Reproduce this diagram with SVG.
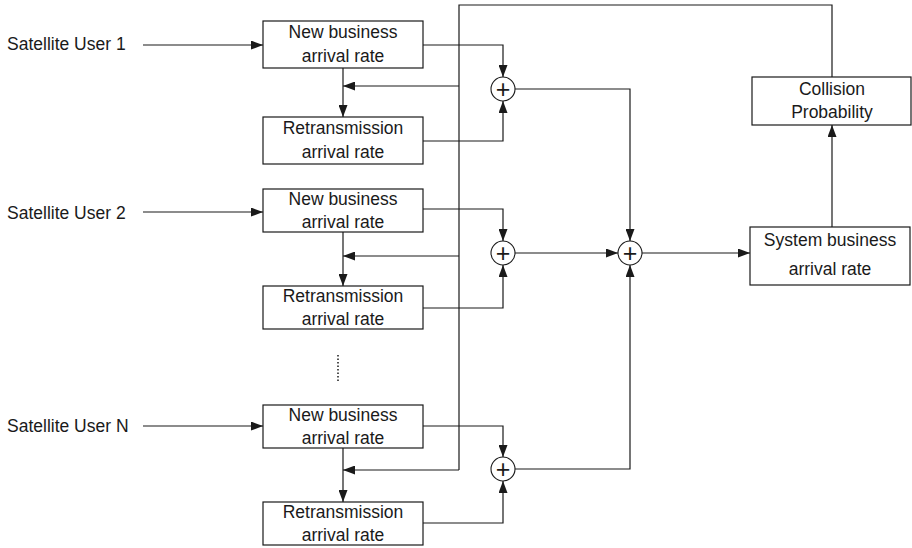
<svg xmlns="http://www.w3.org/2000/svg" width="912" height="548" viewBox="0 0 912 548">
  <style>
    .box { fill: #ffffff; stroke: #1a1a1a; stroke-width: 1.2; }
    .sum { fill: #ffffff; stroke: #1a1a1a; stroke-width: 1.1; }
    .wire { fill: none; stroke: #1a1a1a; stroke-width: 1.2; }
    .arr { marker-end: url(#head); }
    .dots { fill: none; stroke: #1a1a1a; stroke-width: 1.5; stroke-dasharray: 1.5 2; }
    text { font-family: "Liberation Sans", Arial, sans-serif; font-size: 17.5px; fill: #1a1a1a; }
    .c { text-anchor: middle; }
    .plus { font-size: 25px; text-anchor: middle; }
  </style>
  <defs>
    <marker id="head" markerUnits="userSpaceOnUse" markerWidth="12" markerHeight="9" refX="12" refY="4.5" orient="auto">
      <path d="M0,0 L12,4.5 L0,9 z" fill="#1a1a1a"/>
    </marker>
  </defs>

  <!-- connectors -->
  <g id="connectors">
    <!-- user inputs -->
    <path class="wire arr" d="M143,45 H263"/>
    <path class="wire arr" d="M143,212 H263"/>
    <path class="wire arr" d="M143,426 H263"/>
    <!-- new business -> retransmission -->
    <path class="wire arr" d="M343,68 V117"/>
    <path class="wire arr" d="M343,232 V286"/>
    <path class="wire arr" d="M343,448 V502"/>
    <!-- feedback from collision probability -->
    <path class="wire" d="M832,77 V5 H459 V470"/>
    <path class="wire arr" d="M459,86 H343"/>
    <path class="wire arr" d="M459,256 H343"/>
    <path class="wire arr" d="M459,470 H343"/>
    <!-- group 1 into adder -->
    <path class="wire arr" d="M423,45 H503 V77"/>
    <path class="wire arr" d="M423,141 H503 V101"/>
    <!-- group 2 into adder -->
    <path class="wire arr" d="M423,209 H503 V241"/>
    <path class="wire arr" d="M423,308 H503 V265"/>
    <!-- group N into adder -->
    <path class="wire arr" d="M423,426 H503 V457"/>
    <path class="wire arr" d="M423,523 H503 V481"/>
    <!-- adders into total adder -->
    <path class="wire arr" d="M515,89 H630 V241"/>
    <path class="wire arr" d="M515,253 H618"/>
    <path class="wire arr" d="M515,469 H630 V265"/>
    <!-- total -> system -> collision -->
    <path class="wire arr" d="M642,253 H750"/>
    <path class="wire arr" d="M832,227 V125"/>
    <!-- ellipsis between users -->
    <path class="dots" d="M338,355 V381"/>
  </g>

  <g id="user1-label"><text x="7" y="50">Satellite User 1</text></g>
  <g id="user2-label"><text x="7" y="219">Satellite User 2</text></g>
  <g id="userN-label"><text x="7" y="432">Satellite User N</text></g>

  <g id="new-business-1">
    <rect class="box" x="263" y="21" width="160" height="47"/>
    <text class="c" x="343" y="38">New business</text>
    <text class="c" x="343" y="62">arrival rate</text>
  </g>
  <g id="retransmission-1">
    <rect class="box" x="263" y="117" width="160" height="47"/>
    <text class="c" x="343" y="134">Retransmission</text>
    <text class="c" x="343" y="158">arrival rate</text>
  </g>
  <g id="new-business-2">
    <rect class="box" x="263" y="189" width="160" height="43"/>
    <text class="c" x="343" y="205">New business</text>
    <text class="c" x="343" y="228">arrival rate</text>
  </g>
  <g id="retransmission-2">
    <rect class="box" x="263" y="286" width="160" height="43"/>
    <text class="c" x="343" y="302">Retransmission</text>
    <text class="c" x="343" y="325">arrival rate</text>
  </g>
  <g id="new-business-N">
    <rect class="box" x="263" y="405" width="160" height="43"/>
    <text class="c" x="343" y="421">New business</text>
    <text class="c" x="343" y="444">arrival rate</text>
  </g>
  <g id="retransmission-N">
    <rect class="box" x="263" y="502" width="160" height="43"/>
    <text class="c" x="343" y="518">Retransmission</text>
    <text class="c" x="343" y="541">arrival rate</text>
  </g>

  <g id="adder-1">
    <circle class="sum" cx="503" cy="89" r="12"/>
    <text class="plus" x="503" y="97.5">+</text>
  </g>
  <g id="adder-2">
    <circle class="sum" cx="503" cy="253" r="12"/>
    <text class="plus" x="503" y="261.5">+</text>
  </g>
  <g id="adder-N">
    <circle class="sum" cx="503" cy="469" r="12"/>
    <text class="plus" x="503" y="477.5">+</text>
  </g>
  <g id="adder-total">
    <circle class="sum" cx="630" cy="253" r="12"/>
    <text class="plus" x="630" y="261.5">+</text>
  </g>

  <g id="system-rate">
    <rect class="box" x="750" y="227" width="160" height="58"/>
    <text class="c" x="830" y="246">System business</text>
    <text class="c" x="830" y="275">arrival rate</text>
  </g>
  <g id="collision-probability">
    <rect class="box" x="752" y="77" width="159" height="48"/>
    <text class="c" x="832" y="95">Collision</text>
    <text class="c" x="832" y="118">Probability</text>
  </g>
</svg>
